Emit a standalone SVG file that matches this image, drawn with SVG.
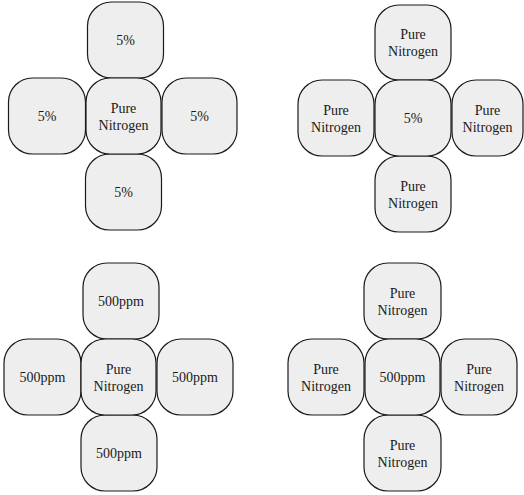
<svg xmlns="http://www.w3.org/2000/svg" width="524" height="495" viewBox="0 0 524 495">
<style>
.b{fill:#eeeeee;stroke:#1a1a1a;stroke-width:1.2}
.t{font-family:"Liberation Serif","Times New Roman",serif;font-size:14px;fill:#1a1a1a;text-anchor:middle}
</style>
<rect width="524" height="495" fill="#ffffff"/>
<g id="g1">
<g id="g1-top"><rect class="b" x="87.5" y="2" width="76" height="76" rx="24"/><text class="t" x="125.5" y="45">5%</text></g>
<g id="g1-left"><rect class="b" x="8.5" y="78" width="77" height="76" rx="24"/><text class="t" x="47" y="121">5%</text></g>
<g id="g1-right"><rect class="b" x="162" y="78" width="75" height="76" rx="24"/><text class="t" x="199.5" y="121">5%</text></g>
<g id="g1-bottom"><rect class="b" x="85.5" y="154" width="76" height="76" rx="24"/><text class="t" x="123.5" y="197">5%</text></g>
<g id="g1-center"><rect class="b" x="86" y="78" width="75" height="76" rx="24"/><text class="t" x="123.5" y="113">Pure</text><text class="t" x="123.5" y="130">Nitrogen</text></g>
</g>
<g id="g2">
<g id="g2-top"><rect class="b" x="375" y="5" width="76" height="75" rx="24"/><text class="t" x="413" y="39">Pure</text><text class="t" x="413" y="56">Nitrogen</text></g>
<g id="g2-left"><rect class="b" x="298" y="80" width="76" height="76" rx="24"/><text class="t" x="336" y="115">Pure</text><text class="t" x="336" y="132">Nitrogen</text></g>
<g id="g2-right"><rect class="b" x="452" y="80" width="71" height="76" rx="24"/><text class="t" x="487.5" y="115">Pure</text><text class="t" x="487.5" y="132">Nitrogen</text></g>
<g id="g2-bottom"><rect class="b" x="375" y="156" width="76" height="76" rx="24"/><text class="t" x="413" y="191">Pure</text><text class="t" x="413" y="208">Nitrogen</text></g>
<g id="g2-center"><rect class="b" x="375" y="80" width="76" height="76" rx="24"/><text class="t" x="413" y="123">5%</text></g>
</g>
<g id="g3">
<g id="g3-top"><rect class="b" x="83" y="263" width="76" height="76" rx="24"/><text class="t" x="121" y="306">500ppm</text></g>
<g id="g3-left"><rect class="b" x="4" y="339" width="77" height="76" rx="24"/><text class="t" x="42.5" y="382">500ppm</text></g>
<g id="g3-right"><rect class="b" x="157" y="339" width="76" height="76" rx="24"/><text class="t" x="195" y="382">500ppm</text></g>
<g id="g3-bottom"><rect class="b" x="81" y="415" width="76" height="76" rx="24"/><text class="t" x="119" y="458">500ppm</text></g>
<g id="g3-center"><rect class="b" x="81" y="339" width="75" height="76" rx="24"/><text class="t" x="118.5" y="374">Pure</text><text class="t" x="118.5" y="391">Nitrogen</text></g>
</g>
<g id="g4">
<g id="g4-top"><rect class="b" x="364" y="263" width="77" height="76" rx="24"/><text class="t" x="402.5" y="298">Pure</text><text class="t" x="402.5" y="315">Nitrogen</text></g>
<g id="g4-left"><rect class="b" x="288" y="339" width="76" height="76" rx="24"/><text class="t" x="326" y="374">Pure</text><text class="t" x="326" y="391">Nitrogen</text></g>
<g id="g4-right"><rect class="b" x="441" y="339" width="76" height="76" rx="24"/><text class="t" x="479" y="374">Pure</text><text class="t" x="479" y="391">Nitrogen</text></g>
<g id="g4-bottom"><rect class="b" x="364" y="415" width="77" height="76" rx="24"/><text class="t" x="402.5" y="450">Pure</text><text class="t" x="402.5" y="467">Nitrogen</text></g>
<g id="g4-center"><rect class="b" x="365" y="339" width="75" height="76" rx="24"/><text class="t" x="402.5" y="382">500ppm</text></g>
</g>
<g id="connectors"/>
</svg>
